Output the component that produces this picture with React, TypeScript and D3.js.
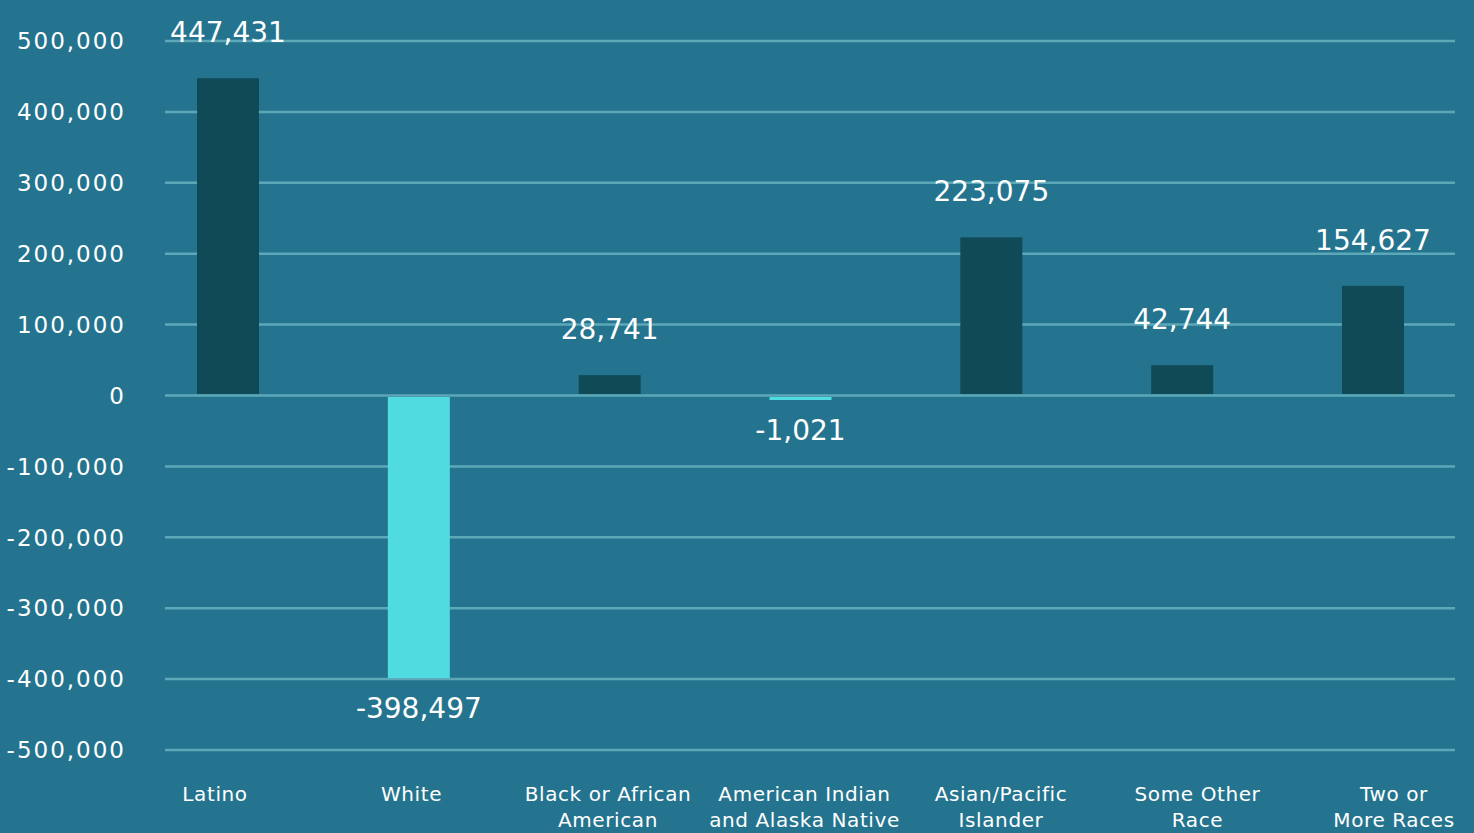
import React from "react";
import * as d3 from "d3";

const categories: string[][] = [
  ["Latino"],
  ["White"],
  ["Black or African", "American"],
  ["American Indian", "and Alaska Native"],
  ["Asian/Pacific", "Islander"],
  ["Some Other", "Race"],
  ["Two or", "More Races"],
];
const values: number[] = [447431, -398497, 28741, -1021, 223075, 42744, 154627];
const yTicks: number[] = [500000, 400000, 300000, 200000, 100000, 0, -100000, -200000, -300000, -400000, -500000];

const W = 1474;
const H = 833;
const BG = "#24748F";
const POS = "#104A57";
const NEG = "#4FDBE0";
const GRID = "#5CA8B9";
const FONT = "'DejaVu Sans', sans-serif";

const locale = d3.formatLocale({
  decimal: ".",
  thousands: ",",
  grouping: [3],
  currency: ["$", ""],
  minus: "-",
});
const fmt = locale.format(",");

export default function App() {
  const y = d3.scaleLinear().domain([-500000, 500000]).range([750, 41]);
  const keys = categories.map((c) => c.join(" "));
  const xBar = d3.scalePoint<string>().domain(keys).range([228, 1373]);
  const xLab = d3.scalePoint<string>().domain(keys).range([215, 1394]);
  const barW = 62;
  const y0 = y(0);

  return (
    <svg
      width={W}
      height={H}
      style={{ position: "absolute", left: 0, top: 0, display: "block" }}
    >
      <rect x={0} y={0} width={W} height={H} fill={BG} />
      {yTicks.map((t) => (
        <g key={t}>
          <line x1={165} x2={1455} y1={y(t)} y2={y(t)} stroke={GRID} strokeWidth={2.5} />
          <text
            x={126}
            y={y(t)}
            dy="0.36em"
            textAnchor="end"
            fill="#fff"
            fontFamily={FONT}
            fontSize={23}
            letterSpacing={2}
          >
            {fmt(t)}
          </text>
        </g>
      ))}
      {values.map((v, i) => {
        const cx = xBar(keys[i])!;
        const top = v >= 0 ? y(v) : y0 + 1.5;
        const bottom = v >= 0 ? y0 - 1.5 : y(v);
        return (
          <g key={keys[i]}>
            <rect x={cx - barW / 2} y={top} width={barW} height={Math.max(bottom - top, 3)} fill={v >= 0 ? POS : NEG} />
            <text
              x={cx}
              y={v >= 0 ? y(v) - 36 : Math.max(y(v), y0 + 4) + 40}
              textAnchor="middle"
              fill="#fff"
              fontFamily={FONT}
              fontSize={28}
            >
              {fmt(v)}
            </text>
          </g>
        );
      })}
      {categories.map((lines, i) => (
        <text
          key={keys[i]}
          x={xLab(keys[i])!}
          y={801}
          textAnchor="middle"
          fill="#fff"
          fontFamily={FONT}
          fontSize={20}
          letterSpacing={0.6}
        >
          {lines.map((l, j) => (
            <tspan key={j} x={xLab(keys[i])!} dy={j === 0 ? 0 : 26}>
              {l}
            </tspan>
          ))}
        </text>
      ))}
    </svg>
  );
}
